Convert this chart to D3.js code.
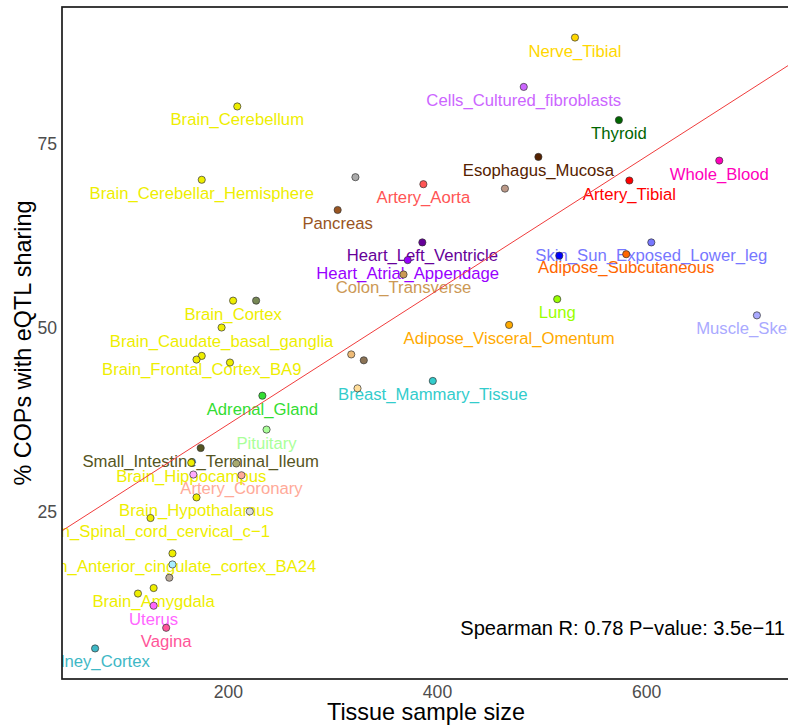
<!DOCTYPE html>
<html>
<head>
<meta charset="utf-8">
<script src="https://cdn.jsdelivr.net/npm/d3@7"></script>
<style>
  html, body { margin: 0; padding: 0; background: #fff; }
  svg { display: block; font-family: "Liberation Sans", Arial, Helvetica, sans-serif; }
</style>
</head>
<body>
<svg id="chart" width="788" height="727"></svg>
<script>
// GTEx tissues: sample size vs. share of COPs with eQTL sharing
const tissues = [
  "Adipose_Subcutaneous", "Adipose_Visceral_Omentum", "Adrenal_Gland", "Artery_Aorta",
  "Artery_Coronary", "Artery_Tibial", "Brain_Amygdala", "Brain_Anterior_cingulate_cortex_BA24",
  "Brain_Caudate_basal_ganglia", "Brain_Cerebellar_Hemisphere", "Brain_Cerebellum", "Brain_Cortex",
  "Brain_Frontal_Cortex_BA9", "Brain_Hippocampus", "Brain_Hypothalamus", "Brain_Nucleus_accumbens_basal_ganglia",
  "Brain_Putamen_basal_ganglia", "Brain_Spinal_cord_cervical_c−1", "Brain_Substantia_nigra", "Breast_Mammary_Tissue",
  "Cells_Cultured_fibroblasts", "Cells_EBV−transformed_lymphocytes", "Colon_Sigmoid", "Colon_Transverse",
  "Esophagus_Gastroesophageal_Junction", "Esophagus_Mucosa", "Esophagus_Muscularis", "Heart_Atrial_Appendage",
  "Heart_Left_Ventricle", "Kidney_Cortex", "Liver", "Lung",
  "Minor_Salivary_Gland", "Muscle_Skeletal", "Nerve_Tibial", "Ovary",
  "Pancreas", "Pituitary", "Prostate", "Skin_Not_Sun_Exposed_Suprapubic",
  "Skin_Sun_Exposed_Lower_leg", "Small_Intestine_Terminal_Ileum", "Spleen", "Stomach",
  "Testis", "Thyroid", "Uterus", "Vagina", "Whole_Blood"
];

const sampleSize = [
  581, 469, 233, 387,
  213, 584, 129, 147,
  194, 175, 209, 205,
  175, 165, 170, 202,
  170, 126, 114, 396,
  483, 147, 318, 368,
  330, 497, 465, 372,
  386, 73, 208, 515,
  144, 706, 532, 167,
  305, 237, 221, 517,
  605, 174, 227, 324,
  322, 574, 129, 141, 670
];

const pctSharing = [
  60.0, 50.4, 40.8, 69.5,
  30.0, 70.0, 14.7, 19.4,
  50.05, 70.1, 80.05, 53.7,
  46.2, 31.7, 27.0, 45.3,
  45.7, 24.2, 13.95, 42.8,
  82.7, 17.9, 46.4, 57.25,
  45.6, 73.2, 68.9, 59.2,
  61.6, 6.5, 31.6, 53.9,
  16.1, 51.7, 89.4, 30.1,
  66.0, 36.2, 25.1, 59.8,
  61.6, 33.7, 53.7, 41.8,
  70.45, 78.2, 12.3, 9.3, 72.7
];

const tissueColor = [
  "#FF6600", "#FFAA00", "#33DD33", "#FF5555",
  "#FFAA99", "#FF0000", "#EEEE00", "#EEEE00",
  "#EEEE00", "#EEEE00", "#EEEE00", "#EEEE00",
  "#EEEE00", "#EEEE00", "#EEEE00", "#EEEE00",
  "#EEEE00", "#EEEE00", "#EEEE00", "#33CCCC",
  "#CC66FF", "#AAEEFF", "#EEBB77", "#CC9955",
  "#8B7355", "#552200", "#BB9988", "#9900FF",
  "#660099", "#3FB8C6", "#A8AA70", "#99FF00",
  "#BBAA99", "#AAAAFF", "#FFD700", "#FFAAFF",
  "#995522", "#AAFF99", "#DDDDDD", "#0000FF",
  "#7777FF", "#555522", "#778855", "#FFDD99",
  "#AAAAAA", "#006600", "#FF66FF", "#FF5599", "#FF00BB"
];

// Names that keep their text label (the rest would collide with a neighbour)
const labelled = [
  "Nerve_Tibial", "Cells_Cultured_fibroblasts", "Brain_Cerebellum", "Thyroid", "Whole_Blood",
  "Esophagus_Mucosa", "Brain_Cerebellar_Hemisphere", "Artery_Aorta", "Artery_Tibial", "Pancreas",
  "Heart_Left_Ventricle", "Skin_Sun_Exposed_Lower_leg", "Heart_Atrial_Appendage", "Adipose_Subcutaneous",
  "Colon_Transverse", "Lung", "Brain_Cortex", "Muscle_Skeletal", "Brain_Caudate_basal_ganglia",
  "Adipose_Visceral_Omentum", "Brain_Frontal_Cortex_BA9", "Breast_Mammary_Tissue", "Adrenal_Gland",
  "Pituitary", "Small_Intestine_Terminal_Ileum", "Brain_Hippocampus", "Artery_Coronary",
  "Brain_Hypothalamus", "Brain_Spinal_cord_cervical_c−1", "Brain_Anterior_cingulate_cortex_BA24",
  "Brain_Amygdala", "Uterus", "Vagina", "Kidney_Cortex"
];

const xTicks = [200, 400, 600];
const yTicks = [25, 50, 75];
const xTitle = "Tissue sample size";
const yTitle = "% COPs with eQTL sharing";
const statText = "Spearman R: 0.78 P−value: 3.5e−11";

const rows = tissues.map((t, i) => ({
  tissue: t, n: sampleSize[i], pct: pctSharing[i], color: tissueColor[i],
  showLabel: labelled.includes(t)
}));

// Panel geometry
const panel = { left: 62, top: 7, right: 790, bottom: 679 };

// ggplot-style 5% expansion of the data range
function expand(ext, f = 0.05) {
  const d = (ext[1] - ext[0]) * f;
  return [ext[0] - d, ext[1] + d];
}

const x = d3.scaleLinear()
  .domain(expand(d3.extent(sampleSize)))
  .range([panel.left, panel.right]);
const y = d3.scaleLinear()
  .domain(expand(d3.extent(pctSharing)))
  .range([panel.bottom, panel.top]);

const svg = d3.select("#chart");

svg.append("defs").append("clipPath").attr("id", "panel-clip")
  .append("rect")
  .attr("x", panel.left).attr("y", panel.top)
  .attr("width", panel.right - panel.left).attr("height", panel.bottom - panel.top);

const plot = svg.append("g").attr("clip-path", "url(#panel-clip)");

// Least-squares fit of sharing on sample size, drawn across the whole panel
const mx = d3.mean(sampleSize), my = d3.mean(pctSharing);
let sxy = 0, sxx = 0;
sampleSize.forEach((v, i) => { sxy += (v - mx) * (pctSharing[i] - my); sxx += (v - mx) * (v - mx); });
const slope = sxy / sxx, intercept = my - slope * mx;
const xd = x.domain();

// Tissue names under their points
plot.append("g").selectAll("text")
  .data(rows.filter(d => d.showLabel))
  .join("text")
  .attr("x", d => x(d.n))
  .attr("y", d => y(d.pct) + 19)
  .attr("text-anchor", "middle")
  .attr("font-size", 16.7)
  .attr("fill", d => d.color)
  .text(d => d.tissue);

plot.append("line")
  .attr("x1", x(xd[0])).attr("y1", y(intercept + slope * xd[0]))
  .attr("x2", x(xd[1])).attr("y2", y(intercept + slope * xd[1]))
  .attr("stroke", "#F03C3C")
  .attr("stroke-width", 1);

plot.append("g").selectAll("circle")
  .data(rows)
  .join("circle")
  .attr("cx", d => x(d.n))
  .attr("cy", d => y(d.pct))
  .attr("r", 3.6)
  .attr("fill", d => d.color)
  .attr("stroke", "#333")
  .attr("stroke-width", 0.7);

// Correlation annotation
svg.append("text")
  .attr("x", 785).attr("y", 635)
  .attr("text-anchor", "end")
  .attr("font-size", 20.1)
  .attr("fill", "#000")
  .text(statText);

// Panel border
svg.append("rect")
  .attr("x", panel.left).attr("y", panel.top)
  .attr("width", panel.right - panel.left).attr("height", panel.bottom - panel.top)
  .attr("fill", "none").attr("stroke", "#1a1a1a").attr("stroke-width", 1.7);

// Axes (labels only, no tick marks)
const xAxis = svg.append("g")
  .attr("transform", `translate(0,${panel.bottom})`)
  .call(d3.axisBottom(x).tickValues(xTicks).tickSize(0).tickPadding(7).tickFormat(d3.format("d")));
const yAxis = svg.append("g")
  .attr("transform", `translate(${panel.left},0)`)
  .call(d3.axisLeft(y).tickValues(yTicks).tickSize(0).tickPadding(5).tickFormat(d3.format("d")));
[xAxis, yAxis].forEach(a => {
  a.select(".domain").remove();
  a.selectAll("text")
    .attr("font-family", "Liberation Sans, Arial, Helvetica, sans-serif")
    .attr("font-size", 17.6)
    .attr("fill", "#4D4D4D");
});

svg.append("text")
  .attr("x", (panel.left + panel.right) / 2)
  .attr("y", 720)
  .attr("text-anchor", "middle")
  .attr("font-size", 23.4)
  .attr("fill", "#000")
  .text(xTitle);

svg.append("text")
  .attr("transform", `translate(31,${(panel.top + panel.bottom) / 2}) rotate(-90)`)
  .attr("text-anchor", "middle")
  .attr("font-size", 23.4)
  .attr("fill", "#000")
  .text(yTitle);
</script>
</body>
</html>
